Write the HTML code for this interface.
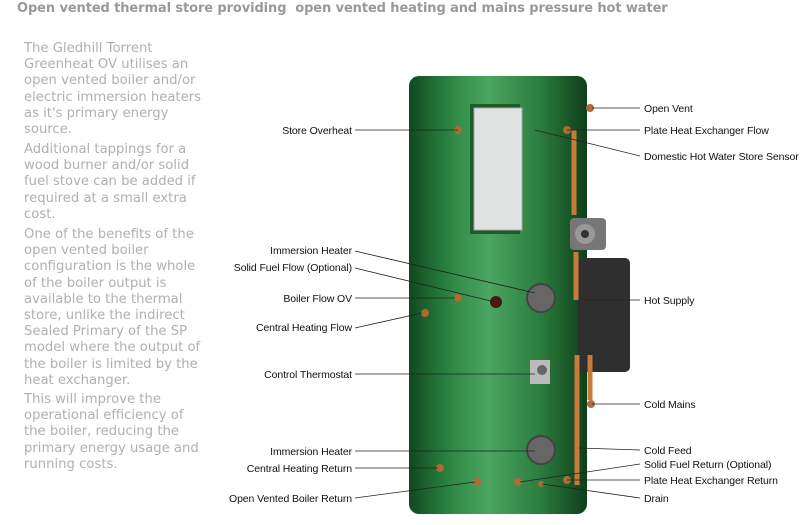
<!DOCTYPE html>
<html><head><meta charset="utf-8"><style>
body{margin:0;background:#fff;width:807px;height:525px;overflow:hidden;position:relative}
.t{position:absolute;left:17px;top:1px;font:bold 13px "DejaVu Sans",sans-serif;color:#999;white-space:nowrap;letter-spacing:-0.1px}
.p{position:absolute;left:24px;width:182px;font:13.2px/16.2px "DejaVu Sans",sans-serif;color:#b0b0b0;margin:0}
svg{position:absolute;left:0;top:0}
svg text{font-family:"Liberation Sans",sans-serif;font-size:10.5px;fill:#111;letter-spacing:-0.1px}
</style></head><body>
<div class="t">Open vented thermal store providing&nbsp; open vented heating and mains pressure hot water</div>
<p class="p" style="top:41px">The Gledhill Torrent Greenheat OV utilises an open vented boiler and/or electric immersion heaters as it's primary energy source.</p>
<p class="p" style="top:142px">Additional tappings for a wood burner and/or solid fuel stove can be added if required at a small extra cost.</p>
<p class="p" style="top:227px">One of the benefits of the open vented boiler configuration is the whole of the boiler output is available to the thermal store, unlike the indirect Sealed Primary of the SP model where the output of the boiler is limited by the heat exchanger.</p>
<p class="p" style="top:392px">This will improve the operational efficiency of the boiler, reducing the primary energy usage and running costs.</p>
<svg width="807" height="525">
<defs>
<linearGradient id="g" x1="0" x2="1">
<stop offset="0" stop-color="#0f4a1f"/><stop offset="0.25" stop-color="#2f8a45"/><stop offset="0.45" stop-color="#4aa660"/><stop offset="0.75" stop-color="#2a7a3c"/><stop offset="1" stop-color="#0e3f1a"/>
</linearGradient>
</defs>
<rect x="409" y="76" width="178" height="438" rx="10" fill="url(#g)"/>
<rect x="470" y="104" width="50" height="130" fill="#1e5a2a"/>
<rect x="474" y="108" width="48" height="122" fill="#dfe2e0" stroke="#aaa"/>
<rect x="578" y="258" width="52" height="114" rx="5" fill="#2f2f2f"/>
<rect x="570" y="218" width="36" height="32" rx="4" fill="#777"/>
<circle cx="585" cy="234" r="10" fill="#999"/><circle cx="585" cy="234" r="4" fill="#333"/>
<g stroke="#c87a3a" stroke-width="5" fill="none">
<path d="M574 130 V215"/><path d="M576 252 V300"/><path d="M577 355 V485"/><path d="M590 355 V400"/>
</g>
<circle cx="541" cy="298" r="14" fill="#666" stroke="#444" stroke-width="2"/>
<circle cx="541" cy="450" r="14" fill="#666" stroke="#444" stroke-width="2"/>
<rect x="530" y="360" width="20" height="24" fill="#bbb"/><circle cx="542" cy="370" r="5" fill="#666"/>
<g fill="#b06a35">
<circle cx="458" cy="130" r="4"/><circle cx="496" cy="302" r="6" fill="#4a1a10"/><circle cx="458" cy="298" r="4"/><circle cx="425" cy="313" r="4"/>
<circle cx="440" cy="468" r="4"/><circle cx="477" cy="482" r="4"/><circle cx="518" cy="482" r="4"/><circle cx="541" cy="484" r="3"/>
<circle cx="590" cy="108" r="4"/><circle cx="567" cy="130" r="4"/><circle cx="591" cy="404" r="4"/><circle cx="567" cy="480" r="4"/>
</g>
<g stroke="#222" stroke-width="0.8" fill="none">
<path d="M355 130 H458"/><path d="M355 251 L535 293"/><path d="M355 268 L495 302"/><path d="M355 298 H455"/><path d="M355 328 L422 313"/>
<path d="M355 374 H535"/><path d="M355 451 H535"/><path d="M355 468 H438"/><path d="M355 498 L475 482"/>
<path d="M592 108 H640"/><path d="M567 130 H640"/><path d="M535 130 L640 156"/><path d="M582 300 H640"/><path d="M592 404 H640"/>
<path d="M579 448 L640 450"/><path d="M520 482 L640 464"/><path d="M567 480 H640"/><path d="M542 484 L640 498"/>
</g>
<g text-anchor="end">
<text x="352" y="134">Store Overheat</text>
<text x="352" y="254">Immersion Heater</text>
<text x="352" y="271">Solid Fuel Flow (Optional)</text>
<text x="352" y="302">Boiler Flow OV</text>
<text x="352" y="331">Central Heating Flow</text>
<text x="352" y="378">Control Thermostat</text>
<text x="352" y="455">Immersion Heater</text>
<text x="352" y="472">Central Heating Return</text>
<text x="352" y="502">Open Vented Boiler Return</text>
</g>
<text x="644" y="112">Open Vent</text>
<text x="644" y="134">Plate Heat Exchanger Flow</text>
<text x="644" y="160">Domestic Hot Water Store Sensor</text>
<text x="644" y="304">Hot Supply</text>
<text x="644" y="408">Cold Mains</text>
<text x="644" y="454">Cold Feed</text>
<text x="644" y="468">Solid Fuel Return (Optional)</text>
<text x="644" y="484">Plate Heat Exchanger Return</text>
<text x="644" y="502">Drain</text>
</svg>
</body></html>
